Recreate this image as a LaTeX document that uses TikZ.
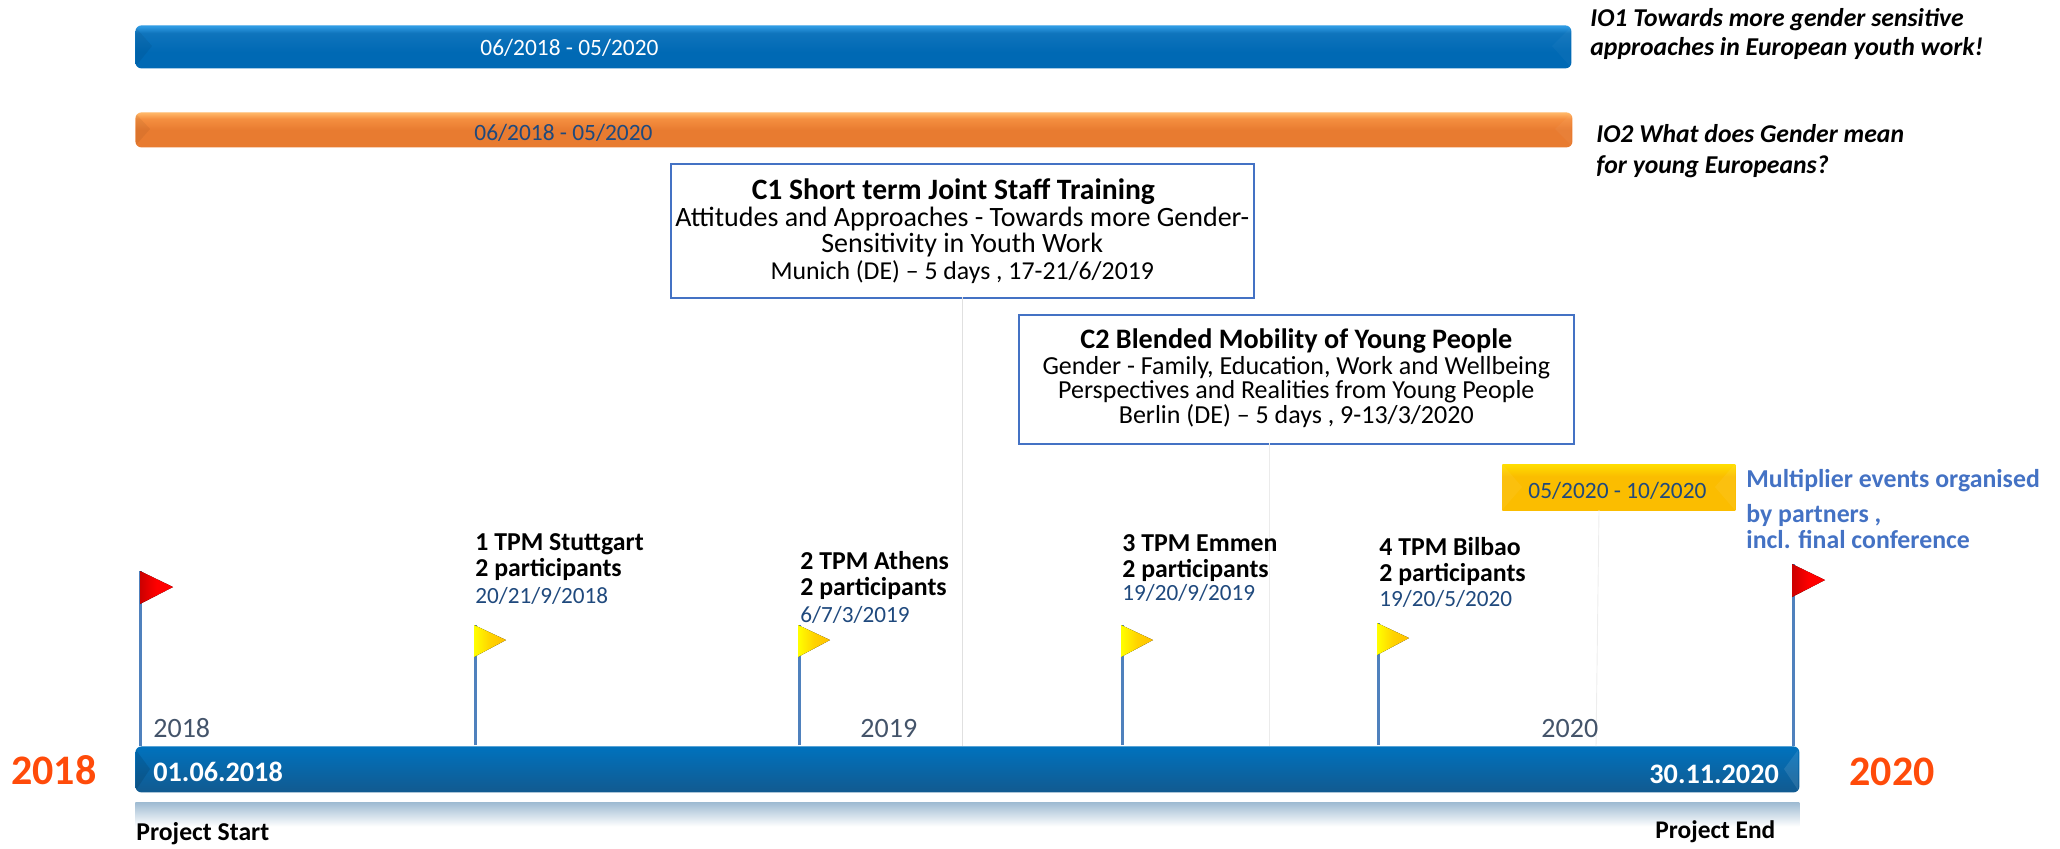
\documentclass[tikz,border=0pt]{standalone}
\usepackage{fontspec}
\setmainfont{Carlito}
\newcommand{\fpx}[2]{\fontsize{#1}{#2}\selectfont}
\definecolor{poleblue}{HTML}{4F81BD}
\definecolor{datenavy}{HTML}{1F497D}
\definecolor{yearslate}{HTML}{44546A}
\definecolor{headorange}{HTML}{FF4B0A}
\definecolor{multiblue}{HTML}{4472C4}
\definecolor{bluetop}{HTML}{2F9BE3}
\definecolor{bluemid}{HTML}{0F74BC}
\definecolor{bluelow}{HTML}{0069B4}
\definecolor{orgtop}{HTML}{FFB566}
\definecolor{orgup}{HTML}{F58F40}
\definecolor{orgmid}{HTML}{E87B30}
\definecolor{axistop}{HTML}{0072BE}
\definecolor{axislow}{HTML}{125A90}
\definecolor{goldtop}{HTML}{FFDD00}
\definecolor{goldlow}{HTML}{FBBD00}
\definecolor{reflect}{HTML}{9FBBD2}
\definecolor{flaggold}{HTML}{FFC000}
\pgfdeclareverticalshading{bluebar}{100bp}{
  color(0bp)=(bluelow); color(44bp)=(bluelow); color(66bp)=(bluemid); color(74bp)=(bluetop); color(100bp)=(bluetop)}
\pgfdeclareverticalshading{orangebar}{100bp}{
  color(0bp)=(orgmid); color(50bp)=(orgmid); color(66bp)=(orgup); color(74bp)=(orgtop); color(100bp)=(orgtop)}
\pgfdeclareverticalshading{goldbar}{100bp}{
  color(0bp)=(goldlow); color(62bp)=(goldlow); color(75bp)=(goldtop); color(100bp)=(goldtop)}
\tikzset{
  barbox/.style={rectangle,rounded corners=3pt,inner sep=0pt,anchor=north west},
  txt/.style={inner sep=0pt,anchor=west,align=left},
  cbox/.style={rectangle,draw=multiblue,line width=.8pt,fill=white,anchor=north west,inner sep=0pt,align=center},
  pole/.style={draw=poleblue,line width=1.5pt},
  leader/.style={draw=black!#1,line width=.45pt},
  yflag/.style={left color=yellow,right color=flaggold,middle color=flaggold!70!yellow},
  rflag/.style={left color=red!80!black,right color=red,middle color=red},
  boldline/.style={txt,font=\fpx{12.9}{13}\bfseries},
}
\begin{document}
\begin{tikzpicture}[x=0.5pt,y=-0.5pt]
\useasboundingbox (0,0) rectangle (2060,848);
% boxes
\node[barbox,minimum width=718pt,minimum height=21.5pt,shading=bluebar] (bar1) at (135,25) {};
\node[barbox,minimum width=718.5pt,minimum height=17.5pt,shading=orangebar] (bar2) at (135,112) {};
\fill[black,opacity=.06] (136,28) -- (152,46) -- (136,66) -- cycle;
\fill[white,opacity=.03] (1570,28) -- (1552,46) -- (1570,66) -- cycle;
\fill[black,opacity=.05] (136,114) -- (150,129) -- (136,145) -- cycle;
\fill[white,opacity=.04] (1571,114) -- (1555,129) -- (1571,145) -- cycle;

\node[cbox,minimum width=291.5pt,minimum height=67pt] (c1) at (670,163) {};
\node[cbox,minimum width=277.5pt,minimum height=64.5pt] (c2) at (1018,314) {};
\node[rectangle,inner sep=0pt,anchor=north west,minimum width=116.5pt,minimum height=23pt,shading=goldbar] (gold) at (1502,464) {};
\fill[white,opacity=.05] (1502,464) -- (1522,487) -- (1502,510) -- cycle;
\fill[white,opacity=.06] (1735,464) -- (1715,487) -- (1735,510) -- cycle;
\node[barbox,minimum width=832pt,minimum height=23pt,top color=axistop,bottom color=axislow] (axis) at (135,746) {};
\fill[black,opacity=.10] (136,750) -- (150,769) -- (136,790) -- cycle;
\fill[white,opacity=.10] (1798,750) -- (1784,769) -- (1798,790) -- cycle;
\node[rectangle,inner sep=0pt,anchor=north west,minimum width=832pt,minimum height=12pt,top color=reflect,bottom color=white] (refl) at (135,802) {};

% leaders
\coordinate (c1foot) at (962,746);
\coordinate (c1top) at (962,297);
\coordinate (c2foot) at (1269,746);
\coordinate (c2top) at (1269,443);
\coordinate (gtop) at (1599,510);
\coordinate (gfoot) at (1596,746);
\draw[leader=12] (c1top) -- (c1foot);
\draw[leader=8] (c2top) -- (c2foot);
\draw[leader=7] (gtop) -- (gfoot);

% flags and poles
\foreach \nm/\px/\py in {fa/475/625,fb/799/625,fc/1122/625,fd/1378/623}{
  \coordinate (\nm) at (\px,\py);
  \coordinate (\nm foot) at (\px,745);
  \draw[pole] (\nm foot) -- (\nm);
  \fill[yflag] (\px-1,\py) -- (\px+31,\py+15) -- (\px-1,\py+32) -- cycle;
}
\coordinate (fs) at (140,571);
\coordinate (fsfoot) at (140,746);
\draw[pole] (fsfoot) -- (fs);
\fill[rflag] (140,571) -- (173,587) -- (140,604) -- cycle;
\coordinate (fe) at (1793,564);
\coordinate (fefoot) at (1793,746);
\draw[pole] (fefoot) -- (fe);
\fill[rflag] (1792,564) -- (1825,580) -- (1792,597) -- cycle;

% bar text
\node[txt,text=white,font=\fpx{11.7}{14}] (t1) at (480,48) {06/2018 - 05/2020};
\node[txt,text=datenavy,font=\fpx{11.7}{14}] (t2) at (474,133) {06/2018 - 05/2020};
\node[txt,text=datenavy,font=\fpx{11.7}{14}] (t3) at (1528,491) {05/2020 - 10/2020};
\node[txt,font=\fpx{12.85}{14.5}\bfseries\itshape] (io1) at (1590,34) {IO1 Towards more gender sensitive\\approaches in European youth work!};
\node[txt,font=\fpx{12.85}{15.7}\bfseries\itshape] (io2) at (1596,151) {IO2 What does Gender mean\\for young Europeans?};

% box text
\node[align=center,inner sep=0pt,anchor=north,yshift=-7.5pt,font=\fpx{14}{13.4}] (c1t) at (c1.north) {\fontsize{14.8}{13.4}\selectfont\bfseries C1 Short term Joint Staff Training\hspace*{9pt}\\Attitudes and Approaches - Towards more Gender-\\Sensitivity in Youth Work\\\fontsize{12.9}{13.4}\selectfont Munich (DE) – 5 days , 17-21/6/2019};
\node[align=center,inner sep=0pt,anchor=north,yshift=-7pt,font=\fpx{13}{12.4}] (c2t) at (c2.north) {\fontsize{14.1}{12.4}\selectfont\bfseries C2 Blended Mobility of Young People\\[.6pt]Gender - Family, Education, Work and Wellbeing\\Perspectives and Realities from Young People\\Berlin  (DE) – 5 days , 9-13/3/2020};

% TPM labels
\node[boldline] (p1) at (475,557) {1 TPM Stuttgart\\2 participants};
\node[txt,text=datenavy,font=\fpx{11.6}{14}] (d1) at (475,596) {20/21/9/2018};
\node[boldline] (p2) at (800,575) {2 TPM Athens\\2 participants};
\node[txt,text=datenavy,font=\fpx{11.6}{14}] (d2) at (800,615) {6/7/3/2019};
\node[boldline] (p3) at (1122,558) {3 TPM Emmen\\2 participants};
\node[txt,text=datenavy,font=\fpx{11.6}{14}] (d3) at (1122,593) {19/20/9/2019};
\node[boldline] (p4) at (1379,561) {4 TPM Bilbao\\2 participants};
\node[txt,text=datenavy,font=\fpx{11.6}{14}] (d4) at (1379,599) {19/20/5/2020};

\node[txt,text=multiblue,font=\fpx{12.9}{13.2}\bfseries] (mult) at (1746,509) {Multiplier events organised\\[4.5pt]by partners ,\\incl. final conference};

% year labels
\node[txt,text=yearslate,font=\fpx{14}{15}] (y1) at (153,728) {2018};
\node[txt,text=yearslate,font=\fpx{14}{15}] (y2) at (860,728) {2019};
\node[txt,text=yearslate,font=\fpx{14}{15}] (y3) at (1541,728) {2020};
\node[txt,text=headorange,font=\fpx{21}{22}\bfseries] (h1) at (11,770) {2018};
\node[txt,text=headorange,font=\fpx{21}{22}\bfseries] (h2) at (1849,772) {2020};
\node[txt,text=white,font=\fpx{14.1}{15}\bfseries] (s1) at (153,772) {01.06.2018};
\node[txt,text=white,font=\fpx{14.1}{15}\bfseries] (s2) at (1649,774) {30.11.2020};
\node[txt,font=\fpx{12.85}{14}\bfseries] (ps) at (136,834) {Project Start};
\node[txt,font=\fpx{12.7}{14}\bfseries] (pe) at (1655,832) {Project End};
\end{tikzpicture}
\end{document}
